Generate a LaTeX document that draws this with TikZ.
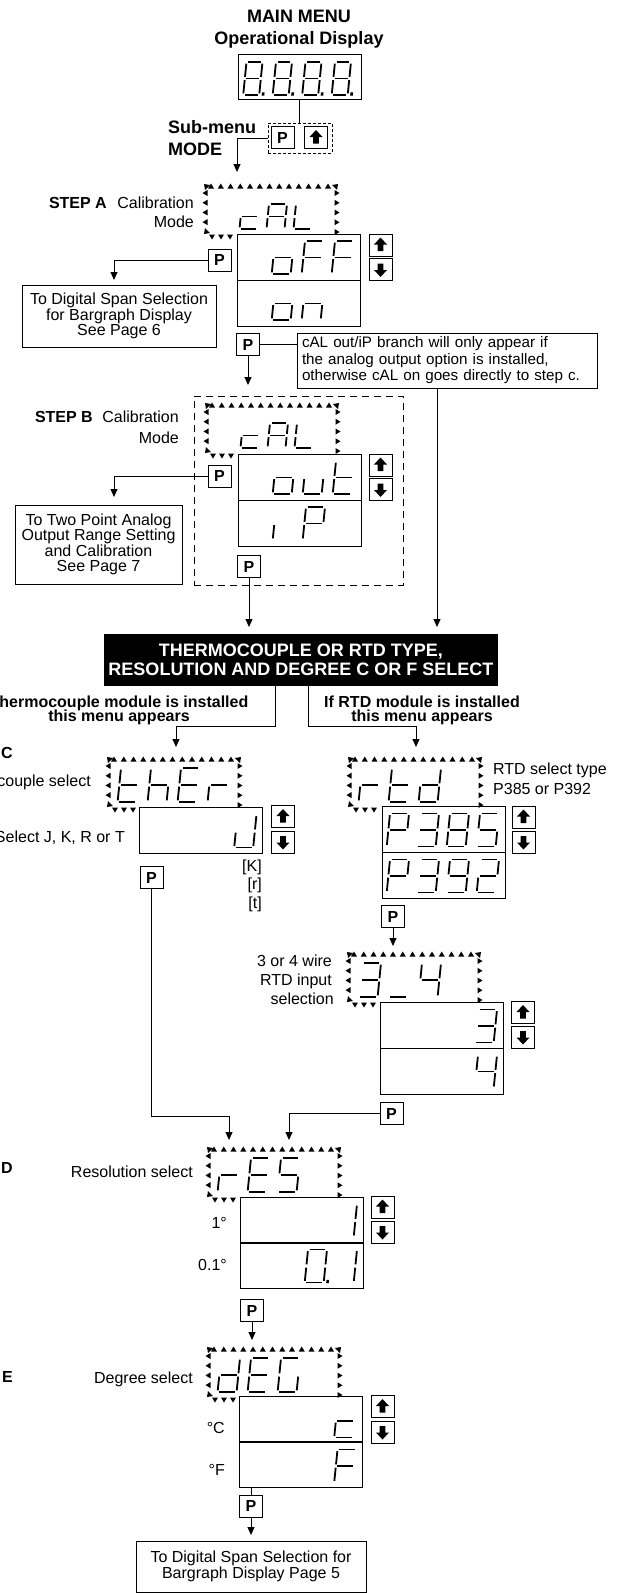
\documentclass[tikz,border=0pt]{standalone}
\usepackage{fontspec}
\setmainfont{Liberation Sans}
\usetikzlibrary{arrows.meta,calc}

\newcommand\txtfont{\fontsize{16}{15.5}\selectfont}
\newcommand\hdrfont{\fontsize{18}{19}\selectfont\bfseries}

\tikzset{
  lbl/.style={font=\txtfont, inner sep=0pt, text height=11.5pt, text depth=0pt},
  blbl/.style={lbl, font=\txtfont\bfseries},
  hdr/.style={font=\hdrfont, inner sep=0pt, text height=12.9pt, text depth=0pt},
  wire/.style={line width=1pt},
  arr/.style={wire, -{Triangle[length=8pt,width=7pt]}},
  btn/.style={draw, line width=1pt, minimum width=23pt, minimum height=22pt, inner sep=0pt},
  pbtn/.style={btn, font=\txtfont\bfseries},
  upbtn/.style={btn, path picture={\fill ($(path picture bounding box.center)+(0,-7.5)$)
      -- ++(6.5,7) -- ++(-3.7,0) -- ++(0,6.5) -- ++(-5.6,0) -- ++(0,-6.5) -- ++(-3.7,0) -- cycle;}},
  dnbtn/.style={btn, path picture={\fill ($(path picture bounding box.center)+(0,7.5)$)
      -- ++(6.5,-7) -- ++(-3.7,0) -- ++(0,-6.5) -- ++(-5.6,0) -- ++(0,6.5) -- ++(-3.7,0) -- cycle;}},
  lcd/.style={draw, line width=1pt, minimum width=123pt, minimum height=46pt, inner sep=0pt},
  infobox/.style={draw, line width=1pt, align=center, inner sep=0pt, font=\txtfont},
  segline/.style={line width=1.8pt},
  banner/.style={fill=black, text=white, font=\hdrfont, align=center, inner sep=0pt}
}

% seven segment glyphs
\newcommand\segw{19}
\newcommand\segh{33}
\newcommand\lcdsega{\draw[segline] (1.6,0) -- (\segw-1.6,0);}
\newcommand\lcdsegb{\draw[segline] (\segw,1.6) -- (\segw,\segh/2-1.6);}
\newcommand\lcdsegc{\draw[segline] (\segw,\segh/2+1.6) -- (\segw,\segh-1.6);}
\newcommand\lcdsegd{\draw[segline] (1.6,\segh) -- (\segw-1.6,\segh);}
\newcommand\lcdsege{\draw[segline] (0,\segh/2+1.6) -- (0,\segh-1.6);}
\newcommand\lcdsegf{\draw[segline] (0,1.6) -- (0,\segh/2-1.6);}
\newcommand\lcdsegg{\draw[segline] (1.6,\segh/2) -- (\segw-1.6,\segh/2);}
\newcommand\lcdsegp{\fill (\segw+2.5,\segh-2.6) rectangle (\segw+5.1,\segh+0.6);}
\newcommand\lcdsegz{}
\newcommand\lcdloop[1]{\ifx\relax#1\expandafter\lcdstop\else\expandafter\lcdnext\fi{#1}}
\newcommand\lcdstop[1]{}
\newcommand\lcdnext[1]{\csname lcdseg#1\endcsname\lcdloop}
\newcommand\lcdsize[2]{\renewcommand\segw{#1}\renewcommand\segh{#2}}
\newcommand\lcdrow[4]{\foreach \gl [count=\k from 0] in {#4} {%
  \begin{scope}[shift={(#1+\k*#3,#2)}, xslant=.1]\expandafter\lcdloop\gl\relax\end{scope}}}

% blinking frame of small triangles
\newcommand\flashframe[2]{%
  \foreach \i in {0,...,12} {\fill (#1+5+\i*9.75,#2) ++(-3,2.5) -- ++(6,0) -- ++(-3,-5) -- cycle;}
  \foreach \j in {0,...,3} {\fill (#1-1,#2+7+\j*9.7) ++(2.5,-3) -- ++(0,6) -- ++(-5,-3) -- cycle;}
  \foreach \j in {0,...,4} {\fill (#1+131,#2+7+\j*9.75) ++(-2.5,-3) -- ++(0,6) -- ++(5,-3) -- cycle;}
  \foreach \i in {0,1,2} {\fill (#1+6+\i*9,#2+51) ++(-3,-2.5) -- ++(6,0) -- ++(-3,5) -- cycle;}
  \fill (#1-2,#2-2) -- ++(6,1) -- ++(-5,5) -- cycle;
  \fill (#1+132,#2-2) -- ++(-6,1) -- ++(5,5) -- cycle;
  \fill (#1-2,#2+48) -- ++(6,-1) -- ++(-5,-5) -- cycle;
}

\begin{document}
\begin{tikzpicture}[x=1pt,y=-1pt]
\useasboundingbox (0,0) rectangle (618,1593);

\node[hdr] (mainhd) at (299,16) {MAIN MENU};
\node[hdr] (ophd) at (299,38) {Operational Display};
\node[lcd, minimum height=45pt] (opd) at (299.5,76.5) {};
\lcdsize{16}{33}
\lcdrow{246.5}{62}{29.5}{abcdefgp,abcdefgp,abcdefgp,abcdefgp}
\node[draw, line width=0.8pt, dash pattern=on 3pt off 2pt, minimum width=64pt, minimum height=30pt] (sub) at (300,138) {};
\node[pbtn] (pm) at (282.5,137.5) {P};
\node[upbtn] (um) at (316,137.5) {};
\node[hdr, anchor=west] (subhd) at (168,127) {Sub-menu};
\node[hdr, anchor=west] (modehd) at (168,149) {MODE};
\coordinate (stepAin) at (237,172);
\draw[wire] (opd.south) -- (opd.south |- sub.north);
\draw[arr] (sub.west) -| (stepAin);

% step A
\node[blbl, anchor=east] (stepA) at (107,203) {STEP A};
\node[lbl, anchor=east] (calA) at (194,203) {Calibration};
\node[lbl, anchor=east] (modeA) at (194,222) {Mode};
\flashframe{206}{186}
\lcdsize{18}{25}
\lcdrow{242}{204}{27}{deg,abcefg,def}
\node[lcd] (valA1) at (298.5,257) {};
\node[lcd] (valA2) at (298.5,303) {};
\lcdsize{19}{33}
\lcdrow{245}{241}{30}{z,cdeg,aefg,aefg}
\lcdrow{245}{287}{30}{z,cdeg,ceg}
\node[upbtn] (upA) at (380.5,245) {};
\node[dnbtn] (dnA) at (380.5,269.5) {};
\node[pbtn] (pA) at (219.5,260) {P};
\node[infobox, minimum width=194pt, minimum height=62pt] (tdA) at (119,316)
  {To Digital Span Selection\\for Bargraph Display\\See Page 6};
\coordinate (tdAin) at (114,280);
\draw[arr] (pA.west) -| (tdAin);
\node[pbtn] (pA2) at (248,344.5) {P};
\node[draw, line width=1pt, inner xsep=5pt, inner ysep=0pt, minimum width=300pt, minimum height=55pt,
  text width=290pt, align=left, font=\fontsize{15.2}{16.5}\selectfont] (note) at (447,360.5)
  {cAL out/iP branch will only appear if\\the analog output option is installed,\\otherwise cAL on goes directly to step c.};
\draw[wire] (pA2.east) -- (pA2.east -| note.west);
\coordinate (stepBin) at (248,385);
\draw[arr] (pA2.south) -- (stepBin);

% step B
\node[draw, line width=0.9pt, dash pattern=on 7pt off 5pt, minimum width=209pt, minimum height=189pt] (stepBbox) at (298.5,490.5) {};
\node[blbl, anchor=east] (stepB) at (93,417) {STEP B};
\node[lbl, anchor=east] (calB) at (179,417) {Calibration};
\node[lbl, anchor=east] (modeB) at (179,438) {Mode};
\flashframe{207}{405}
\lcdsize{18}{25}
\lcdrow{243}{423}{27}{deg,abcefg,def}
\node[lcd] (valB1) at (299.5,477) {};
\node[lcd] (valB2) at (299.5,523) {};
\lcdsize{19}{33}
\lcdrow{246}{461}{30}{z,cdeg,cde,defg}
\lcdrow{246}{507}{30}{z,e,abefg}
\node[upbtn] (upB) at (380.5,465) {};
\node[dnbtn] (dnB) at (380.5,489.5) {};
\node[pbtn] (pB) at (219.5,476) {P};
\node[infobox, minimum width=167pt, minimum height=79pt] (tdB) at (98.5,544.5)
  {To Two Point Analog\\Output Range Setting\\and Calibration\\See Page 7};
\coordinate (tdBin) at (114,497);
\draw[arr] (pB.west) -| (tdBin);
\node[pbtn] (pB2) at (249,566.5) {P};

% banner
\node[banner, minimum width=394pt, minimum height=52pt] (ban) at (301,660)
  {THERMOCOUPLE OR RTD TYPE,\\RESOLUTION AND DEGREE C OR F SELECT};
\coordinate (banL) at (249,627);
\coordinate (banR) at (437,627);
\draw[arr] (pB2.south) -- (banL);
\draw[arr] (note.south -| banR) -- (banR);
\node[blbl] (tcmod) at (119,702) {Thermocouple module is installed};
\node[blbl] (tcapp) at (119,716) {this menu appears};
\node[blbl] (rtdmod) at (422,702) {If RTD module is installed};
\node[blbl] (rtdapp) at (422,716) {this menu appears};
\coordinate (brL) at (275,726);
\coordinate (brR) at (308,726);
\coordinate (thrIn) at (176,747);
\coordinate (rtdIn) at (416,747);
\draw[arr] (ban.south -| brL) -- (brL) -| (thrIn);
\draw[arr] (ban.south -| brR) -- (brR) -| (rtdIn);

% step C thermocouple
\node[blbl, anchor=east] (stepC) at (13,753) {STEP C};
\node[lbl, anchor=east] (tcsel) at (91,781) {Thermocouple select};
\node[lbl, anchor=east] (jkrt) at (125,837) {Select J, K, R or T};
\flashframe{109}{759}
\lcdsize{19}{34}
\lcdrow{121}{768}{30}{defg,cefg,adefg,eg}
\node[lcd] (valC) at (201,830.5) {};
\lcdsize{19}{33}
\lcdrow{147.5}{814.5}{30}{z,z,z,bcde}
\node[upbtn] (upC) at (283,816.5) {};
\node[dnbtn] (dnC) at (283,842) {};
\node[lbl, anchor=east] (kK) at (262,866) {[K]};
\node[lbl, anchor=east] (kr) at (262,884) {[r]};
\node[lbl, anchor=east] (kt) at (262,903) {[t]};
\node[pbtn] (pC) at (151.5,877.5) {P};

% step C rtd
\node[lbl, anchor=west] (rtdsel) at (493,769) {RTD select type};
\node[lbl, anchor=west] (rtdpp) at (493,789) {P385 or P392};
\flashframe{350}{759}
\lcdsize{19}{34}
\lcdrow{362}{768}{30}{eg,defg,bcdeg}
\node[lcd] (valR1) at (443.5,829.5) {};
\node[lcd] (valR2) at (443.5,875.5) {};
\lcdsize{19}{33}
\lcdrow{390}{813.5}{30}{abefg,abcdg,abcdefg,acdfg}
\lcdrow{390}{859.5}{30}{abefg,abcdg,abcdfg,abdeg}
\node[upbtn] (upR) at (523.5,817) {};
\node[dnbtn] (dnR) at (523.5,842) {};
\node[pbtn] (pR) at (393,916.5) {P};
\coordinate (wireIn) at (393,946);
\draw[arr] (pR.south) -- (wireIn);

\node[lbl, anchor=east] (w34) at (332,961) {3 or 4 wire};
\node[lbl, anchor=east] (rtdin) at (332,980) {RTD input};
\node[lbl, anchor=east] (wsel) at (334,999) {selection};
\flashframe{349}{954}
\lcdsize{19}{34}
\lcdrow{362}{963}{30}{abcdg,d,bcfg}
\node[lcd] (valW1) at (441.5,1025.5) {};
\node[lcd] (valW2) at (441.5,1071) {};
\lcdsize{19}{33}
\lcdrow{388}{1009.5}{30}{z,z,z,abcdg}
\lcdrow{388}{1055}{30}{z,z,z,bcfg}
\node[upbtn] (upW) at (523,1012.5) {};
\node[dnbtn] (dnW) at (523,1037) {};
\node[pbtn] (pW) at (391.5,1113.5) {P};

% step D
\coordinate (resL) at (229,1140);
\coordinate (resR) at (289,1140);
\draw[arr] (pC.south) -- ++(0,227) -| (resL);
\draw[arr] (pW.west) -| (resR);
\node[blbl, anchor=east] (stepD) at (13,1168) {STEP D};
\node[lbl, anchor=east] (ressel) at (193,1172) {Resolution select};
\flashframe{209}{1149}
\lcdsize{19}{34}
\lcdrow{221}{1158}{30}{eg,adefg,acdfg}
\node[lcd] (valD1) at (301.5,1220) {};
\node[lcd] (valD2) at (301.5,1265.5) {};
\lcdsize{19}{33}
\lcdrow{248}{1204}{30}{z,z,z,bc}
\lcdrow{248}{1249.5}{30}{z,z,abcdefp,bc}
\node[lbl, anchor=east] (onedeg) at (227,1223) {1°};
\node[lbl, anchor=east] (tenthdeg) at (227,1265) {0.1°};
\node[upbtn] (upD) at (382.5,1207) {};
\node[dnbtn] (dnD) at (382.5,1232) {};
\node[pbtn] (pD) at (252,1310.5) {P};
\coordinate (degIn) at (252,1340);
\draw[arr] (pD.south) -- (degIn);

% step E
\node[blbl, anchor=east] (stepE) at (13,1377) {STEP E};
\node[lbl, anchor=east] (degsel) at (193,1378) {Degree select};
\flashframe{209}{1349}
\lcdsize{19}{34}
\lcdrow{221}{1358}{30}{bcdeg,adefg,acdef}
\node[lcd] (valE1) at (301,1419.5) {};
\node[lcd] (valE2) at (301,1464.5) {};
\lcdsize{19}{33}
\lcdrow{247.5}{1404.5}{30}{z,z,z,deg}
\lcdrow{247.5}{1449.5}{30}{z,z,z,aefg}
\node[lbl, anchor=east] (degC) at (225,1428) {°C};
\node[lbl, anchor=east] (degF) at (225,1470) {°F};
\node[upbtn] (upE) at (382.5,1406.5) {};
\node[dnbtn] (dnE) at (382.5,1432) {};
\node[pbtn] (pE) at (251,1506) {P};
\draw[wire] (valE2.south -| pE) -- (pE.north);
\node[infobox, minimum width=230pt, minimum height=51pt] (fin) at (251,1566.5)
  {To Digital Span Selection for\\Bargraph Display Page 5};
\coordinate (finIn) at (251,1535);
\draw[arr] (pE.south) -- (finIn);
\end{tikzpicture}
\end{document}
